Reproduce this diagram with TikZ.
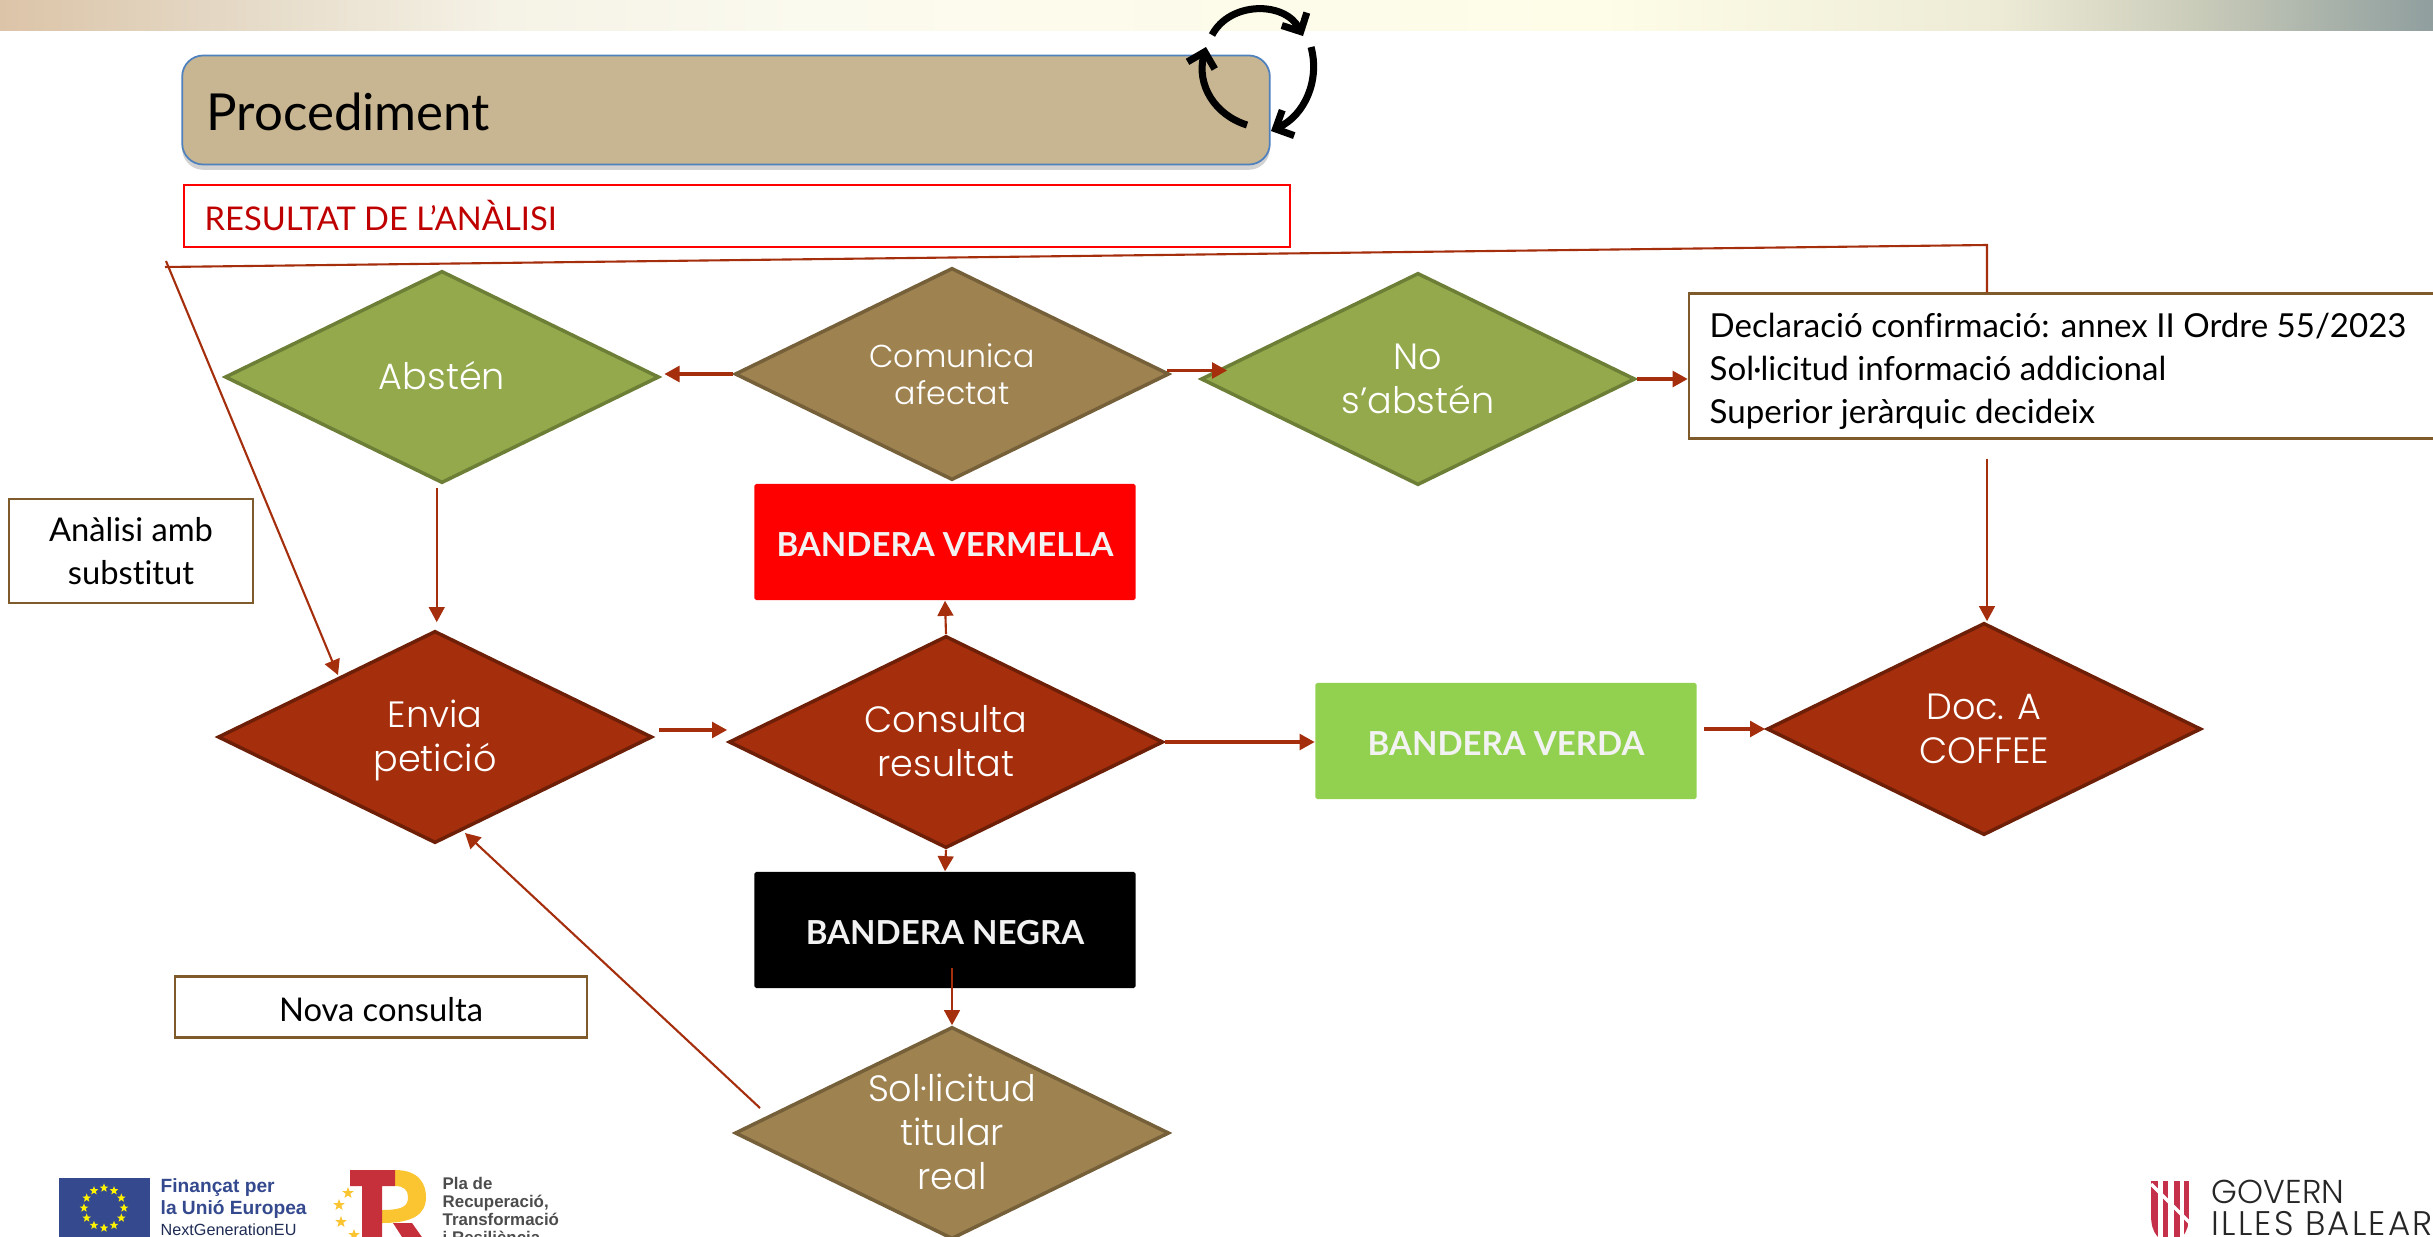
\documentclass[tikz,border=0pt]{standalone}
\usepackage{fontspec}
\usepackage{xcolor}
\usepackage{array}
\usetikzlibrary{shapes.geometric}
\usetikzlibrary{calc}
\usetikzlibrary{shadows}
\usetikzlibrary{arrows, arrows.meta}
\setmainfont[Ligatures=NoCommon]{Lato}
\newfontfamily\dfont{Poppins Light}
\newfontfamily\lfont{Liberation Sans}
\newcommand*{\Flat}[1]{\raisebox{-7.1pt}{\makebox[0pt]{\smash{\begin{tabular}[c]{@{}c@{}}#1\end{tabular}}}}}
\definecolor{WHITE}{HTML}{FFFFFF}
\definecolor{RUST}{HTML}{A52E0D}
\definecolor{RUSTD}{HTML}{6E1F08}
\definecolor{OLIVE}{HTML}{93A94C}
\definecolor{OLIVED}{HTML}{6D7F36}
\definecolor{BROWN}{HTML}{9E8250}
\definecolor{BROWND}{HTML}{75603A}
\definecolor{TAN}{HTML}{C8B592}
\definecolor{FRAME}{HTML}{7F5A2A}
\definecolor{BLUEL}{HTML}{4F81BD}
\definecolor{LEAF}{HTML}{92D14F}
\definecolor{EUBLUE}{HTML}{34498E}
\definecolor{TRRED}{HTML}{C5303A}
\definecolor{TRYEL}{HTML}{FBC431}
\definecolor{SHIELD}{HTML}{C5304A}
\definecolor{BANDA}{HTML}{DCC4A8}
\definecolor{BANDB}{HTML}{E3D6C2}
\definecolor{BANDC}{HTML}{F5F2E6}
\definecolor{BANDD}{HTML}{FBFAEE}
\definecolor{BANDE}{HTML}{FEFDE8}
\definecolor{BANDF}{HTML}{EDEBD6}
\definecolor{BANDG}{HTML}{C9CBB9}
\definecolor{BANDH}{HTML}{8F9E9E}
\tikzset{
  dia/.style={diamond, draw, line width=1pt, inner sep=0pt, minimum width=4.34cm, minimum height=2.12cm, text=WHITE, font=\dfont\fontsize{10.4}{12.6}\selectfont},
  diared/.style={dia, fill=RUST, draw=RUSTD},
  diagreen/.style={dia, fill=OLIVE, draw=OLIVED},
  diabrown/.style={dia, fill=BROWN, draw=BROWND},
  flag/.style={rectangle, rounded corners=0.5pt, inner sep=0pt, minimum width=3.81cm, minimum height=1.16cm, text height=8.5pt, text depth=0pt, text=WHITE!95!black, font=\bfseries\fontsize{9.4}{12}\selectfont},
  framebox/.style={rectangle, draw=FRAME, line width=0.6pt, fill=WHITE, inner sep=0pt, font=\fontsize{9.3}{12.2}\selectfont},
  conn/.style={draw=RUST, line width=0.6pt, -{Triangle[length=4.3pt,width=4.5pt]}},
  connb/.style={draw=RUST, line width=0.9pt, -{Triangle[length=4.3pt,width=4.5pt]}},
  cycle arc/.style={line width=2pt, -{Straight Barb[length=4pt,width=8pt]}},
  logotxt/.style={inner sep=0pt, anchor=base west, align=left, font=\lfont\bfseries\fontsize{5.45}{6}\selectfont},
  plantxt/.style={logotxt, text=black!70, font=\lfont\bfseries\fontsize{4.8}{6}\selectfont},
  goldstar/.style={shape=star, star points=5, star point ratio=2.4, inner sep=0pt}
}
\begin{document}
\begin{tikzpicture}[x=0.01cm, y=-0.01cm]
    \clip (0,0) rectangle (2433,1236);
    \fill[WHITE] (0,0) rectangle (2433,1236);
    % Top band
    \foreach \xa/\xb/\ca/\cb in {0/200/BANDA/BANDB, 200/500/BANDB/BANDC, 500/800/BANDC/BANDD, 800/1600/BANDD/BANDE, 1600/2000/BANDE/BANDF, 2000/2200/BANDF/BANDG, 2200/2433/BANDG/BANDH} {
      \shade[left color=\ca, right color=\cb] (\xa,0) rectangle (\xb+1,30);
    }
    % Title
    \node[rectangle, rounded corners=6pt, fill=TAN, draw=BLUEL, line width=0.5pt, drop shadow={shadow xshift=0pt, shadow yshift=-1.5pt, opacity=0.35}, minimum width=10.87cm, minimum height=1.09cm, inner sep=0pt] (title) at (726,110) {};
    \node[anchor=base west, inner sep=0pt, font=\fontsize{14.5}{16}\selectfont] (titletxt) at (206,130) {Procediment};
    \node[rectangle, draw=red, line width=0.5pt, minimum width=11.06cm, minimum height=0.62cm, inner sep=0pt] (result) at (737,216) {};
    \node[anchor=base west, inner sep=0pt, text=red!75!black, font=\fontsize{9.3}{12}\selectfont] (resulttxt) at (204,230) {RESULTAT DE L’ANÀLISI};
    % Cycle
    \coordinate (c1) at (1212,35);
    \coordinate (c2) at (1303,36);
    \coordinate (c3) at (1311,47);
    \coordinate (c4) at (1271,131);
    \coordinate (c5) at (1247,125);
    \coordinate (c6) at (1206,47);
    \draw[cycle arc] (c1) .. controls (1230,1) and (1285,1) .. (c2);
    \draw[cycle arc] (c3) .. controls (1320,80) and (1305,115) .. (c4);
    \draw[cycle arc] (c5) .. controls (1215,115) and (1196,85) .. (c6);
    % Diamonds
    \node[diagreen] (absten) at (442,377) {\Flat{Abstén}};
    \node[diabrown, font=\dfont\fontsize{9}{10.7}\selectfont] (comunica) at (952,374) {\Flat{Comunica\\afectat}};
    \node[diagreen] (noabsten) at (1418,379) {\Flat{No\\s’abstén}};
    \node[diared] (envia) at (435,737) {\Flat{Envia\\petició}};
    \node[diared] (consulta) at (946,742) {\Flat{Consulta\\resultat}};
    \node[diared] (doca) at (1984,729) {\Flat{Doc. A\\COFFEE}};
    \node[diabrown] (sollicitud) at (952,1133) {\Flat{Sol·licitud\\titular\\real}};
    % Flags
    \node[flag, fill=red] (vermella) at (945,542) {BANDERA VERMELLA};
    \node[flag, fill=black] (negra) at (945,930) {BANDERA NEGRA};
    \node[flag, fill=LEAF] (verda) at (1506,741) {BANDERA VERDA};
    % Text boxes
    \node[framebox, minimum width=2.44cm, minimum height=1.04cm, align=center] (substitut) at (131,551) {Anàlisi amb\\substitut};
    \node[framebox, minimum width=4.12cm, minimum height=0.61cm, text height=8.2pt, text depth=0pt] (nova) at (381,1007) {Nova consulta};
    \node[framebox, minimum width=7.48cm, minimum height=1.45cm] (decl) at (2063,366) {};
    \node[anchor=west, inner sep=0pt, align=left, font=\fontsize{9.4}{12.2}\selectfont] (decltxt) at (1709,371) {Declaració confirmació: annex II Ordre 55/2023\\Sol·licitud informació addicional\\Superior jeràrquic decideix};
    % Arrows
    \coordinate (topend) at (165,267);
    \coordinate (corner) at (1987,245);
    \coordinate (crossend) at (166,261);
    \coordinate (enviatip) at (338,675);
    \coordinate (soltail) at (760,1108);
    \coordinate (enviabot) at (465,833);
    \draw[RUST, line width=0.6pt] (corner |- decl.north) -- (corner) -- (topend);
    \draw[conn] (crossend) -- (enviatip);
    \draw[connb] (comunica.west) -- ([xshift=1pt]comunica.west -| absten.east);
    \draw[connb] ([xshift=-1pt,yshift=1pt]comunica.east) -- ([xshift=16pt,yshift=1pt]comunica.east);
    \draw[connb] (noabsten.east) -- (noabsten.east -| decl.west);
    \draw[conn] ([xshift=0.5pt,yshift=-0.9pt]absten.south -| envia.north) -- ([xshift=0.5pt,yshift=2pt]envia.north);
    \draw[connb] ([xshift=1.5pt,yshift=2pt]envia.east) -- ([yshift=2pt]envia.east -| consulta.west);
    \draw[conn] (consulta.north) -- (vermella.south);
    \draw[connb] (consulta.east) -- (consulta.east -| verda.west);
    \draw[connb] ([xshift=2pt]verda.east |- doca.west) -- (doca.west);
    \draw[conn] (consulta.south) -- (negra.north);
    \draw[conn] ([yshift=6pt]negra.south -| sollicitud.north) -- (sollicitud.north);
    \draw[conn] (soltail) -- (enviabot);
    \draw[conn] ([yshift=-5.4pt]decl.south -| corner) -- (corner |- doca.north);
    % Logos
    \fill[EUBLUE] (59,1178) rectangle (150,1240);
    \foreach \a in {0,30,...,330} {
      \node[goldstar, fill=yellow, minimum size=2.6pt] at ({104+20*cos(\a)},{1208+20*sin(\a)}) {};
    }
    \node[logotxt, text=EUBLUE] (fin1) at (160,1192) {Finançat per};
    \node[logotxt, text=EUBLUE] (fin2) at (160,1214) {la Unió Europea};
    \node[logotxt, text=EUBLUE!60!black, font=\lfont\fontsize{4.6}{6}\selectfont] (fin3) at (160,1235) {NextGenerationEU};
    \fill[TRYEL] (395,1170) .. controls (420,1170) and (426,1185) .. (426,1197) .. controls (426,1215) and (412,1223) .. (382,1223) -- (382,1210) .. controls (405,1210) and (408,1205) .. (408,1197) .. controls (408,1190) and (404,1186) .. (395,1186) -- cycle;
    \fill[TRRED] (350,1170) -- (395,1170) -- (395,1186) -- (382,1186) -- (382,1240) -- (362,1240) -- (362,1186) -- (350,1186) -- cycle;
    \fill[TRRED] (393,1223) -- (412,1223) -- (424,1240) -- (404,1240) -- cycle;
    \foreach \sx/\sy in {348/1193, 339/1205, 341/1222, 354/1235} {
      \node[goldstar, fill=TRYEL, minimum size=3.4pt] at (\sx,\sy) {};
    }
    \node[plantxt] (pla1) at (442,1189) {Pla de};
    \node[plantxt] (pla2) at (442,1207) {Recuperació,};
    \node[plantxt] (pla3) at (442,1225) {Transformació};
    \node[plantxt] (pla4) at (442,1243) {i Resiliència};
    \begin{scope}
      \clip (2151,1181) -- (2189,1181) -- (2189,1215) .. controls (2189,1235) and (2180,1240) .. (2170,1245) .. controls (2160,1240) and (2151,1235) .. (2151,1215) -- cycle;
      \foreach \sa/\sb in {2151/2158, 2163/2168, 2174/2180, 2184/2189} {
        \fill[SHIELD] (\sa,1181) rectangle (\sb,1240);
      }
      \draw[WHITE, line width=1pt] (2151,1184) -- (2189,1222);
    \end{scope}
    \node[anchor=base west, inner sep=0pt, text=black!85, font=\dfont\fontsize{9.4}{10}\selectfont] (gov1) at (2211,1203) {GOVERN};
    \node[anchor=base west, inner sep=0pt, text=black!85, font=\dfont\fontsize{9.7}{10}\selectfont] (gov2) at (2211,1235) {\addfontfeatures{LetterSpace=6.5}ILLES BALEAR};
\end{tikzpicture}
\end{document}
